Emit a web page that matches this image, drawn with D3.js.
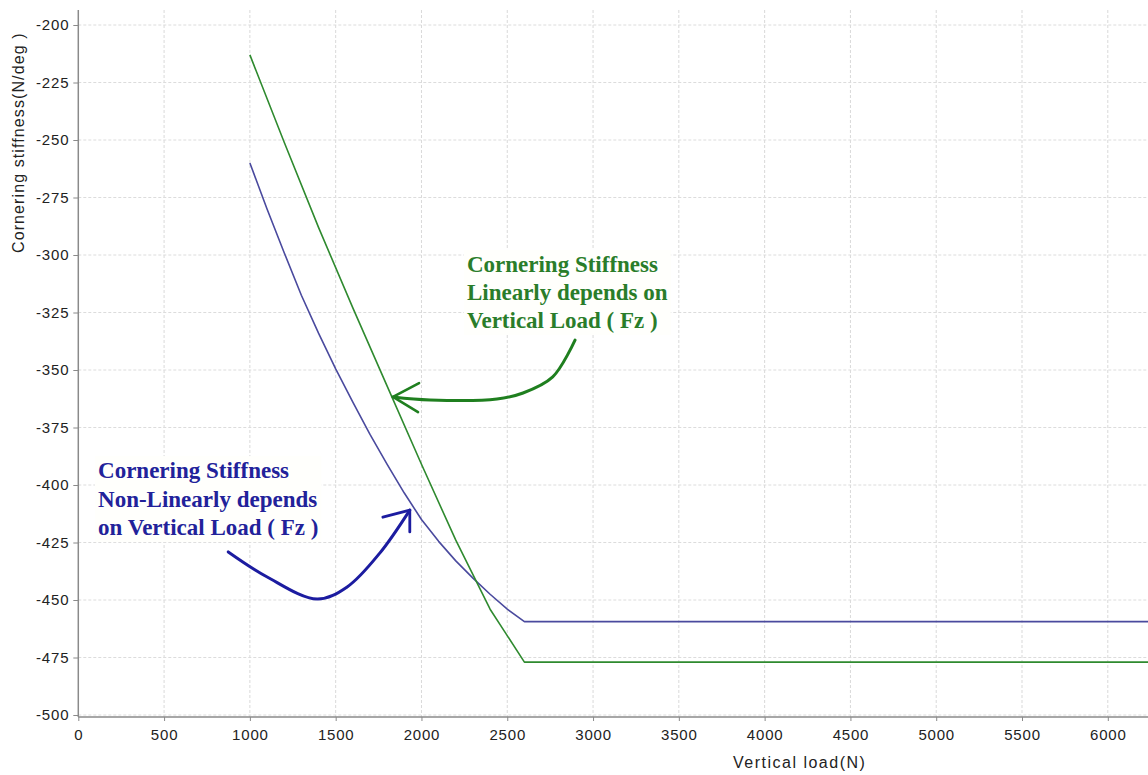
<!DOCTYPE html>
<html>
<head>
<meta charset="utf-8">
<script src="https://cdn.jsdelivr.net/npm/d3@7"></script>
<style>
  html, body { margin: 0; padding: 0; background: #fff; }
  svg { display: block; }
</style>
</head>
<body>
<svg id="chart" width="1148" height="775"></svg>
<script>
// ---------- data ----------
const xTicks = [0, 500, 1000, 1500, 2000, 2500, 3000, 3500, 4000, 4500, 5000, 5500, 6000];
const yTicks = [-200, -225, -250, -275, -300, -325, -350, -375, -400, -425, -450, -475, -500];

const loadLinear = [1000, 1200, 1400, 1600, 1800, 2000, 2200, 2400, 2600, 6400];
const stiffLinear = [-213, -251, -288, -323, -357, -391, -424, -454, -477, -477];

const loadNonLinear = [1000, 1100, 1200, 1300, 1400, 1500, 1600, 1700, 1800, 1900, 2000,
                       2100, 2200, 2300, 2400, 2500, 2600, 6400];
const stiffNonLinear = [-260, -280, -299, -317.5, -334, -349.5, -364, -378, -391, -403.5, -415,
                        -424.5, -433, -440.5, -447.5, -454, -459.4, -459.4];

const xTitle = "Vertical load(N)";
const yTitle = "Cornering stiffness(N/deg )";

const greenLabel = ["Cornering Stiffness", "Linearly depends on", "Vertical Load ( Fz )"];
const blueLabel = ["Cornering Stiffness", "Non-Linearly depends", "on Vertical Load ( Fz )"];

// hand-drawn annotation arrows, in data units (load, stiffness)
const greenArrowLoad = [2895, 2765, 2592, 2440, 2050, 1834];
const greenArrowStiff = [-337, -353, -360, -362.6, -363, -361.7];
const greenHeadLoad = [1986, 1834, 1980];
const greenHeadStiff = [-355.7, -361.7, -368.3];

const blueArrowLoad = [874, 1101, 1392, 1567, 1757, 1932];
const blueArrowStiff = [-429.1, -440, -449.6, -444.3, -429.6, -410.9];
const blueHeadLoad = [1775, 1932, 1932];
const blueHeadStiff = [-414, -410.9, -420.4];

// ---------- layout ----------
const svg = d3.select("#chart");
const W = 1148, H = 775;
const plotLeft = 78.3, plotRight = 1148, plotTop = 10, plotBottom = 717;

const x = d3.scaleLinear().domain([0, 6000]).range([78.3, 1107.8]);
const y = d3.scaleLinear().domain([-500, -200]).range([715, 25]);

const green = "#2f8a2f", blue = "#4a4a9e";
const greenText = "#2a7d2a", blueText = "#22229a";
const fmt = d => String(d);

svg.append("rect").attr("width", W).attr("height", H).attr("fill", "#fff");

svg.append("defs").append("clipPath").attr("id", "plotclip")
  .append("rect").attr("x", plotLeft).attr("y", plotTop)
  .attr("width", plotRight - plotLeft).attr("height", plotBottom - plotTop);

// grid
const grid = svg.append("g").attr("clip-path", "url(#plotclip)");
grid.selectAll(".vg").data(xTicks.filter(d => d > 0)).enter().append("line")
  .attr("x1", d => x(d)).attr("x2", d => x(d))
  .attr("y1", plotTop).attr("y2", plotBottom)
  .attr("stroke", "#d9d9d9").attr("stroke-width", 1).attr("stroke-dasharray", "3,2");
grid.selectAll(".hg").data(yTicks).enter().append("line")
  .attr("x1", plotLeft).attr("x2", plotRight)
  .attr("y1", d => y(d)).attr("y2", d => y(d))
  .attr("stroke", "#dcdcdc").attr("stroke-width", 1).attr("stroke-dasharray", "3,2");

// axes
const axisColor = "#8a8a8a";
const xAxis = d3.axisBottom(x).tickValues(xTicks).tickSize(4).tickPadding(8).tickFormat(fmt);
const gx = svg.append("g").attr("transform", `translate(0,${plotBottom})`).call(xAxis);
gx.select(".domain").remove();
gx.append("line").attr("x1", plotLeft).attr("x2", plotRight).attr("y1", 0).attr("y2", 0)
  .attr("stroke", axisColor).attr("stroke-width", 1.5);
gx.selectAll(".tick line").attr("stroke", axisColor);
gx.selectAll(".tick text").attr("fill", "#222")
  .style("font-family", "'Liberation Sans', Arial, sans-serif").style("font-size", "15px")
  .style("letter-spacing", "0.8px");

const yAxis = d3.axisLeft(y).tickValues(yTicks).tickSize(5).tickPadding(4).tickFormat(fmt);
const gy = svg.append("g").attr("transform", `translate(${plotLeft},0)`).call(yAxis);
gy.select(".domain").remove();
gy.append("line").attr("x1", 0).attr("x2", 0).attr("y1", plotTop).attr("y2", plotBottom)
  .attr("stroke", axisColor).attr("stroke-width", 1.5);
gy.selectAll(".tick line").attr("stroke", axisColor);
gy.selectAll(".tick text").attr("fill", "#222")
  .style("font-family", "'Liberation Sans', Arial, sans-serif").style("font-size", "15px")
  .style("letter-spacing", "0.8px");

// axis titles
svg.append("text").attr("x", 733).attr("y", 768)
  .style("font-family", "'Liberation Sans', Arial, sans-serif").style("font-size", "16px")
  .style("letter-spacing", "1.5px").attr("fill", "#222").text(xTitle);
svg.append("text").attr("transform", "translate(24,253) rotate(-90)")
  .style("font-family", "'Liberation Sans', Arial, sans-serif").style("font-size", "16px")
  .style("letter-spacing", "1.1px").attr("fill", "#222").text(yTitle);

// data lines
const lineGen = d3.line().x(d => x(d[0])).y(d => y(d[1]));
const plot = svg.append("g").attr("clip-path", "url(#plotclip)");
plot.append("path").datum(loadNonLinear.map((d, i) => [d, stiffNonLinear[i]]))
  .attr("d", lineGen).attr("fill", "none").attr("stroke", blue).attr("stroke-width", 1.6)
  .attr("stroke-linejoin", "round");
plot.append("path").datum(loadLinear.map((d, i) => [d, stiffLinear[i]]))
  .attr("d", lineGen).attr("fill", "none").attr("stroke", green).attr("stroke-width", 1.6)
  .attr("stroke-linejoin", "round");

// annotations
function label(lines, load, stiff, color, lineH) {
  const g = svg.append("g");
  const t = g.append("text").attr("x", x(load)).attr("y", y(stiff))
    .style("font-family", "'Liberation Serif', 'Times New Roman', serif")
    .style("font-weight", "bold").style("font-size", "23px").attr("fill", color);
  lines.forEach((s, i) => t.append("tspan").attr("x", x(load)).attr("dy", i ? lineH : 0).text(s));
  const bb = t.node().getBBox();
  g.insert("rect", "text").attr("x", bb.x - 3).attr("y", bb.y - 2)
    .attr("width", bb.width + 6).attr("height", bb.height + 4).attr("fill", "#fffffc");
}
label(greenLabel, 2265, -307.4, greenText, 28);
label(blueLabel, 115, -397, blueText, 28.5);

const curve = d3.line().x(d => x(d[0])).y(d => y(d[1])).curve(d3.curveCatmullRom.alpha(0.5));
const straight = d3.line().x(d => x(d[0])).y(d => y(d[1]));
svg.append("path").datum(greenArrowLoad.map((d, i) => [d, greenArrowStiff[i]]))
  .attr("d", curve).attr("fill", "none").attr("stroke", "#1f7f1f").attr("stroke-width", 3)
  .attr("stroke-linecap", "round");
svg.append("path").datum(greenHeadLoad.map((d, i) => [d, greenHeadStiff[i]]))
  .attr("d", straight).attr("fill", "none").attr("stroke", "#1f7f1f").attr("stroke-width", 2.6)
  .attr("stroke-linecap", "round").attr("stroke-linejoin", "round");
svg.append("path").datum(blueArrowLoad.map((d, i) => [d, blueArrowStiff[i]]))
  .attr("d", curve).attr("fill", "none").attr("stroke", "#1c1ca0").attr("stroke-width", 3)
  .attr("stroke-linecap", "round");
svg.append("path").datum(blueHeadLoad.map((d, i) => [d, blueHeadStiff[i]]))
  .attr("d", straight).attr("fill", "none").attr("stroke", "#1c1ca0").attr("stroke-width", 2.8)
  .attr("stroke-linecap", "round").attr("stroke-linejoin", "round");
</script>
</body>
</html>
